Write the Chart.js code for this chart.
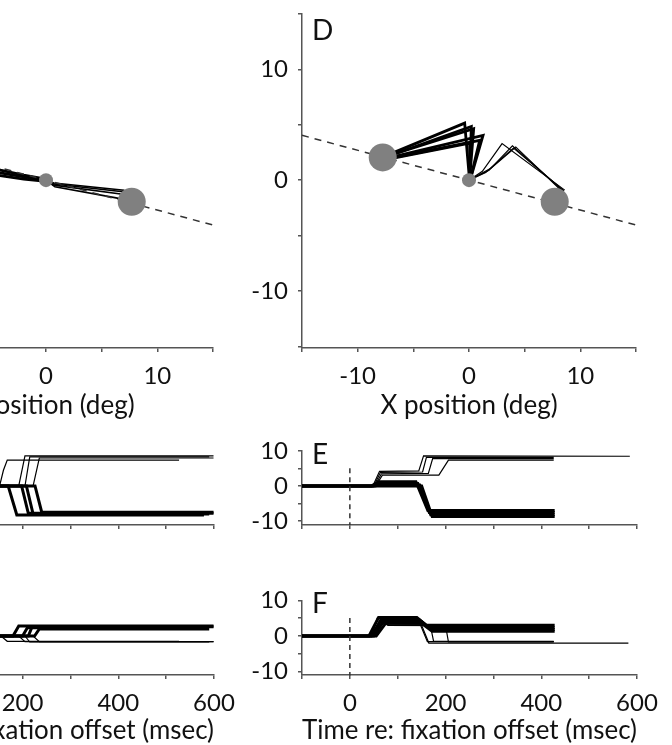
<!DOCTYPE html>
<html>
<head>
<meta charset="utf-8">
<script src="https://cdn.jsdelivr.net/npm/chart.js@4.4.1/dist/chart.umd.min.js"></script>
<style>
  html, body { margin: 0; padding: 0; background: #fff; }
  #fig { position: relative; width: 672px; height: 745px; overflow: hidden; background: #fff; }
  #fig canvas { position: absolute; }
  .letter { position: absolute; font-family: Lato, sans-serif; font-size: 28px; line-height: 1; color: #111; }
</style>
</head>
<body>
<div id="fig">
  <canvas id="xyLeft" width="430" height="420" style="left:-181px;top:0px"></canvas>
  <canvas id="xyRight" width="430" height="420" style="left:242px;top:0px"></canvas>
  <canvas id="xLeft" width="430" height="100" style="left:-181px;top:430px"></canvas>
  <canvas id="xRight" width="430" height="100" style="left:242px;top:430px"></canvas>
  <canvas id="yLeft" width="430" height="165" style="left:-181px;top:580px"></canvas>
  <canvas id="yRight" width="430" height="165" style="left:242px;top:580px"></canvas>
  <div class="letter" style="left:312px;top:15px">D</div>
  <div class="letter" style="left:312px;top:439px">E</div>
  <div class="letter" style="left:312px;top:588px">F</div>
</div>

<script>
// ---- data (deg / msec) ----

// targets and fixation spot
const fixSpot = [[0, 0]];
const targets = [[-7.75, 2.05], [7.7, -1.95]];
const targetLine = [[-15, 4.05], [15, -4.05]];

// top-left panel: thick traces go left, thin traces go right
const abThick = [
  [[0, 0.1], [-2, 0.45], [-4.1, 0.9], [-7.7, 2.1]],
  [[0, 0], [-2, 0.3], [-4.1, 0.65], [-7.7, 2.0]],
  [[0, -0.1], [-2, 0.1], [-4.1, 0.4], [-7.7, 1.9]]
];
const abThin = [
  [[0, 0], [0.7, -0.25], [7.0, -0.9], [7.7, -1.9]],
  [[0, 0], [0.7, -0.35], [6.9, -1.05], [7.7, -1.9]],
  [[0, 0], [0.7, -0.45], [6.7, -1.25], [7.7, -1.9]],
  [[0, 0], [0.8, -0.6], [6.3, -1.6], [7.7, -1.9]]
];

// panel D
const dThick = [
  [[0.05, 0], [-0.39, 5.15], [-7.7, 2.1]],
  [[0.05, 0], [0.21, 4.85], [-7.7, 2.0]],
  [[0.05, 0], [0.42, 4.65], [-7.7, 2.05]],
  [[0.1, 0], [1.26, 4.05], [-7.7, 1.9]],
  [[0.1, 0], [0.96, 3.6], [-7.7, 1.85]],
  [[0.05, 0], [0.06, 3.35], [-7.7, 1.8]]
];
const dThin = [
  [[0, 0], [1.2, 0.8], [2.97, 3.3], [8.6, -0.9]],
  [[0, 0], [1.8, 0.9], [3.9, 3.1], [8.5, -1.0]],
  [[0, 0], [2.0, 1.1], [4.2, 3.0], [8.4, -1.05]],
  [[0, 0], [1.5, 0.7], [4.0, 2.9], [8.5, -0.95]]
];

// time courses, left column (x position, then y position)
const bxThick = [
  [[-100, 0], [170, 0], [188, -8.3], [579, -8.3]],
  [[-100, 0], [198, 0], [212, -7.8], [599, -7.8]],
  [[-100, 0], [208, 0], [222, -8.0], [590, -8.0]],
  [[-100, 0], [226, 0], [240, -7.5], [599, -7.5]]
];
const bxThin = [
  [[-100, 0], [152, 0], [160, 4.5], [168, 7.4], [527, 7.4]],
  [[-100, 0], [192, 0], [205, 8.6], [599, 8.6]],
  [[-100, 0], [205, 0], [215, 8.3], [590, 8.3]],
  [[-100, 0], [222, 0], [235, 8.0], [599, 8.0]]
];
const byThick = [
  [[-100, 0], [180, 0], [192, 2.8], [599, 2.8]],
  [[-100, 0], [200, 0], [210, 2.3], [579, 2.3]],
  [[-100, 0], [212, 0], [220, 2.6], [599, 2.6]],
  [[-100, 0], [225, 0], [235, 2.0], [590, 2.0]]
];
const byThin = [
  [[-100, 0], [155, 0], [168, -1.5], [527, -1.5]],
  [[-100, 0], [192, 0], [205, -1.6], [599, -1.6]],
  [[-100, 0], [205, 0], [215, -1.7], [590, -1.7]],
  [[-100, 0], [222, 0], [235, -1.6], [599, -1.6]]
];

// time courses, panels E (x position) and F (y position)
const eThick = [
  [[-100, 0], [45, 0], [60, 1.2], [138, 1.2], [163, -7.0], [428, -7.0]],
  [[-100, 0], [48, 0], [63, 0.8], [142, 0.7], [166, -7.6], [428, -7.6]],
  [[-100, 0], [52, 0], [66, 0.4], [146, 0.3], [169, -8.2], [428, -8.2]],
  [[-100, 0], [55, 0], [70, 0.1], [150, 0], [172, -8.7], [428, -8.7]]
];
const eThin = [
  [[-100, 0], [48, 0], [62, 4.2], [144, 4.3], [154, 8.6], [585, 8.5]],
  [[-100, 0], [50, 0], [64, 3.9], [152, 4.0], [160, 8.2], [426, 8.2]],
  [[-100, 0], [52, 0], [66, 3.5], [164, 3.6], [173, 7.8], [426, 7.8]],
  [[-100, 0], [54, 0], [68, 3.1], [186, 3.1], [206, 7.4], [426, 7.4]]
];
const fThick = [
  [[-100, 0], [40, 0], [60, 5.2], [140, 5.2], [160, 3.0], [428, 3.0]],
  [[-100, 0], [45, 0], [65, 4.6], [145, 4.6], [165, 2.4], [428, 2.4]],
  [[-100, 0], [50, 0], [70, 4.0], [150, 4.0], [170, 1.8], [428, 1.8]],
  [[-100, 0], [55, 0], [75, 3.6], [150, 3.6], [172, 1.3], [428, 1.3]]
];
const fThin = [
  [[-100, 0], [45, 0], [57, 4.9], [70, 3.6], [147, 3.3], [162, -1.6], [426, -1.6]],
  [[-100, 0], [48, 0], [62, 4.3], [80, 3.2], [168, 3.1], [175, -1.5], [426, -1.5]],
  [[-100, 0], [50, 0], [65, 4.0], [80, 3.0], [200, 2.9], [206, -1.7], [426, -1.7]],
  [[-100, 0], [52, 0], [66, 3.8], [80, 3.1], [150, 3.0], [165, -2.0], [582, -2.0]]
];
const offsetMark = [[0, 5.1], [0, -11.2]];

// tick labels
const degTicks = [-10, 0, 10];
const posTicks = [-10, 0, 10];
const timeTicks = [0, 200, 400, 600];

// ---- helpers ----
const FONT = 'Lato, sans-serif';
const AXIS = '#555';

function pts(arr) { return arr.map(p => ({ x: p[0], y: p[1] })); }

function traces(list, width) {
  return list.map(t => ({
    data: pts(t), showLine: true, borderColor: '#000', borderWidth: width,
    pointRadius: 0, tension: 0, order: 3
  }));
}

function dots(list, r) {
  return { data: pts(list), showLine: false, pointRadius: r, pointBackgroundColor: '#808080',
    pointBorderWidth: 0, order: 1 };
}

function dashed(list, dash) {
  return { data: pts(list), showLine: true, borderColor: '#333', borderWidth: 1.5,
    borderDash: dash, pointRadius: 0, order: 2, clip: false };
}

function axis(min, max, step, labels, fitSize, title) {
  return {
    type: 'linear', min: min, max: max,
    ticks: {
      stepSize: step, autoSkip: false, maxRotation: 0, color: '#111', includeBounds: false,
      font: { family: FONT, size: 24 }, padding: 10,
      callback: v => labels.includes(v) ? String(v) : ''
    },
    grid: { drawOnChartArea: false, tickLength: 4, color: AXIS, lineWidth: 1.5 },
    border: { color: AXIS, width: 1.5 },
    title: title ? { display: true, text: title, color: '#111',
      font: { family: FONT, size: 26, lineHeight: 1 }, padding: { top: 0, bottom: 1 } } : { display: false },
    afterFit: s => {
      if (s.isHorizontal()) s.height = fitSize; else s.width = fitSize;
      s.paddingTop = 0; s.paddingBottom = 0; s.paddingLeft = 0; s.paddingRight = 0;
    }
  };
}

function panel(id, datasets, xs, ys, pad) {
  new Chart(document.getElementById(id), {
    type: 'scatter',
    data: { datasets: datasets },
    options: {
      responsive: false, animation: false, events: [],
      layout: { padding: pad },
      plugins: { legend: { display: false }, tooltip: { enabled: false } },
      scales: { x: xs, y: ys }
    }
  });
}

// ---- top row: X/Y position ----
function xyPanel(id, thick, thin, thickW, thinW) {
  const sets = [dots(fixSpot, 7), dots(targets, 14), dashed(targetLine, [7, 6])]
    .concat(traces(thick, thickW), traces(thin, thinW));
  panel(id, sets,
    axis(-15, 15, 5, degTicks, 72, 'X position (deg)'),
    axis(-15.15, 15, 5, posTicks, 60, null),
    { left: 0, right: 36, top: 13.5, bottom: 0 });
}
xyPanel('xyLeft', abThick, abThin, 2.8, 1.6);
xyPanel('xyRight', dThick, dThin, 2.8, 1.2);

// ---- time courses ----
function timePanel(id, thick, thin, labelled) {
  const sets = [dashed(offsetMark, [5, 4])].concat(traces(thick, 3), traces(thin, 1.2));
  panel(id, sets,
    axis(-100, 600, 100, labelled ? timeTicks : [], labelled ? 70 : 5,
      labelled ? 'Time re: fixation offset (msec)' : null),
    axis(labelled ? -11 : -11.15, 10, 5, posTicks, 60, null),
    { left: 0, right: 35, top: labelled ? 20.5 : 21, bottom: 0 });
}
timePanel('xLeft', bxThick, bxThin, false);
timePanel('xRight', eThick, eThin, false);
timePanel('yLeft', byThick, byThin, true);
timePanel('yRight', fThick, fThin, true);
</script>
</body>
</html>
